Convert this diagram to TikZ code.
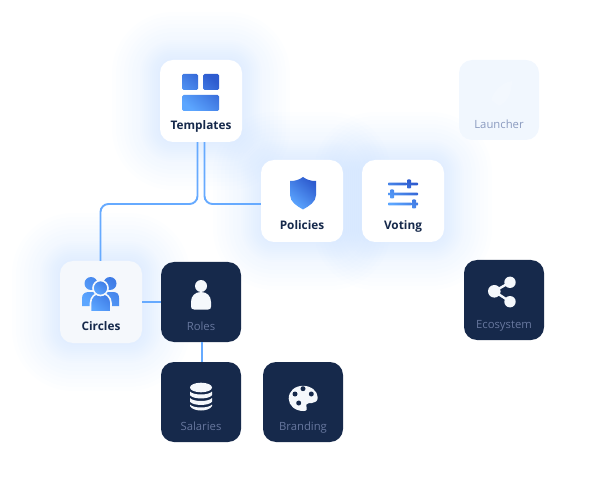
\documentclass[tikz,border=0pt]{standalone}
\usepackage{fontspec}
\setmainfont{Open Sans}
\usetikzlibrary{positioning}
\definecolor{navy}{HTML}{16294B}
\definecolor{paper}{HTML}{F5F8FC}
\definecolor{linkblue}{HTML}{66AAFF}
\definecolor{glowblue}{HTML}{6AA8FF}
\definecolor{icondark}{HTML}{2E5CCF}
\definecolor{iconmid}{HTML}{3F7CE6}
\definecolor{iconlight}{HTML}{5CA6FF}
\definecolor{launchbg}{HTML}{F1F7FE}
\definecolor{dimtext}{HTML}{67779E}
\definecolor{launchtext}{HTML}{8A9ABF}
\definecolor{faintrocket}{HTML}{F3F8FE}
\tikzset{
    whitecard/.style={fill=white, rounded corners=13, minimum size=82, inner sep=0},
    palecard/.style={whitecard, fill=paper},
    launchcard/.style={whitecard, fill=launchbg, minimum size=80},
    navycard/.style={whitecard, fill=navy, minimum size=80},
    boldlabel/.style={font=\fontsize{11.8}{12}\selectfont\bfseries, text=navy, text height=9, text depth=3},
    dimlabel/.style={font=\fontsize{11.3}{12}\selectfont, text=dimtext, text height=9, text depth=3},
    link/.style={draw=linkblue, line width=1.9, rounded corners=8},
    iconfill/.style={top color=icondark, bottom color=iconlight, shading angle=-40},
    groupicon/.style={top color=iconmid, bottom color=iconlight, shading angle=-40},
    whiteicon/.style={fill=paper},
    glowlayer/.style={fill=glowblue, opacity=0.012}
}
\newcommand{\cardglow}[2]{%
    \foreach \g in {2,4,...,20,24,28,...,48}
        \fill[glowlayer, rounded corners=13+\g]
            (#1-41-\g,#2-41-\g) rectangle (#1+41+\g,#2+41+\g);
}
\begin{document}
\begin{tikzpicture}[x=1pt, y=-1pt]
\useasboundingbox (0,0) rectangle (604,502);
% glows
\cardglow{201}{101}
\cardglow{302}{201}
\cardglow{403}{201}
\cardglow{101}{302}

% cards
\node[whitecard] (templates) at (201,101) {};
\node[whitecard] (policies) at (302,201) {};
\node[whitecard] (voting) at (403,201) {};
\node[launchcard] (launcher) at (499,100) {};
\node[palecard] (circles) at (101,302) {};
\node[navycard] (roles) at (201,302) {};
\node[navycard] (salaries) at (201,402) {};
\node[navycard] (branding) at (303,402) {};
\node[navycard] (ecosystem) at (504,300) {};

% labels
\node[boldlabel] (templateslabel) at (201,126.3) {Templates};
\node[boldlabel] (policieslabel) at (302,226.4) {Policies};
\node[boldlabel] (votinglabel) at (403,226.4) {Voting};
\node[boldlabel] (circleslabel) at (101,327) {Circles};
\node[dimlabel, text=launchtext] (launcherlabel) at (499,125.5) {Launcher};
\node[dimlabel] (roleslabel) at (201,327.3) {Roles};
\node[dimlabel] (salarieslabel) at (201,427.3) {Salaries};
\node[dimlabel] (brandinglabel) at (303,427.3) {Branding};
\node[dimlabel] (ecosystemlabel) at (504,325.5) {Ecosystem};

% connectors
\coordinate (bendleft) at (100.5,204);
\draw[link] ([xshift=3.5]templates.south) |- ([yshift=-3]policies.west);
\draw[link] ([xshift=-3.5]templates.south) |- (bendleft) -- (100.5,261);
\draw[link] (circles.east) -- (roles.west);
\draw[link] ([xshift=1]roles.south) -- ([xshift=1]salaries.north);

% templates icon
\shade[iconfill, rounded corners=1.5] (182,74) rectangle (198,90)
    (203,74) rectangle (219,90) (182,95) rectangle (219,111);
% policies icon
\shade[iconfill] (303,177) .. controls (299,180) and (295,181) .. (290,181)
    -- (290,195) .. controls (290,202) and (297,206) .. (303,209.5)
    .. controls (309,206) and (316,202) .. (316,195) -- (316,181)
    .. controls (311,181) and (307,180) .. (303,177) -- cycle;
% voting icon
\shade[iconfill, rounded corners=0.8]
    (388,182.6) rectangle (407,185.4) (411,182.6) rectangle (418,185.4)
    (407,179.5) rectangle (411,188.5)
    (388,192.6) rectangle (390,195.4) (394,192.6) rectangle (418,195.4)
    (390,189.5) rectangle (394,198.5)
    (388,202.6) rectangle (412,205.4) (416,202.6) rectangle (418,205.4)
    (412,199.5) rectangle (416,208.5);
% circles icon
\shade[groupicon] (91,283.5) circle (6.5) (110,283.5) circle (6.5)
    (82,306) -- (82,298) .. controls (82,294) and (85,292) .. (89,292)
    -- (113,292) .. controls (117,292) and (119,294) .. (119,298) -- (119,306) -- cycle;
\shade[groupicon, draw=paper, line width=1.6] (90.5,312) -- (90.5,303)
    .. controls (90.5,297) and (95,293) .. (100.5,293)
    .. controls (106,293) and (111,297) .. (111,303) -- (111,312) -- cycle;
\shade[groupicon, draw=paper, line width=1.6] (100.5,288) circle (7.5);
% roles icon
\fill[whiteicon] (201,286) circle (6);
\fill[whiteicon] (191,306.5) -- (191,302) .. controls (191,296) and (195,292) .. (201,292)
    .. controls (207,292) and (211,296) .. (211,302) -- (211,306.5)
    .. controls (211,308.5) and (210,309.5) .. (208,309.5) -- (194,309.5)
    .. controls (192,309.5) and (191,308.5) .. (191,306.5) -- cycle;
% salaries icon
\fill[whiteicon] (190,387.5) arc[start angle=180, end angle=360, x radius=11, y radius=4.8]
    arc[start angle=0, end angle=180, x radius=11, y radius=4.8];
\foreach \b in {393,399.5} {
    \fill[whiteicon] (190,\b-1.5) .. controls (193,\b+2.5) and (209,\b+2.5) .. (212,\b-1.5)
        -- (212,\b+2.2) .. controls (209,\b+6.5) and (193,\b+6.5) .. (190,\b+2.2) -- cycle;
}
\fill[whiteicon] (190,404.5) .. controls (193,408.5) and (209,408.5) .. (212,404.5)
    -- (212,406) .. controls (209,412) and (193,412) .. (190,406) -- cycle;
% branding icon
\fill[whiteicon] (303,385.8) .. controls (311,385.8) and (317.7,391) .. (317.7,397.5)
    .. controls (317.7,401) and (315,403) .. (312,403) -- (309,403)
    .. controls (306.5,403) and (305.5,405.5) .. (306.5,407)
    .. controls (307.5,409) and (307,411) .. (303.5,411)
    .. controls (295,411) and (288.7,405.5) .. (288.7,398.5)
    .. controls (288.7,391) and (295,385.8) .. (303,385.8) -- cycle;
\foreach \px/\py in {303/388.7, 295/394, 311.3/394, 298.7/403}
    \fill[navy] (\px,\py) circle (2.5);
% ecosystem icon
\draw[draw=paper, line width=2.4] (510,282.3) -- (494.3,291.3) -- (510,301.7);
\fill[whiteicon] (494.3,291.3) circle (6.3) (510,282.3) circle (5.7) (510,301.7) circle (5.7);
% launcher icon
\fill[faintrocket] (512,81) .. controls (503,82) and (494,90) .. (491,100)
    -- (499,106) .. controls (508,102) and (512,92) .. (512,81) -- cycle;
\end{tikzpicture}
\end{document}
